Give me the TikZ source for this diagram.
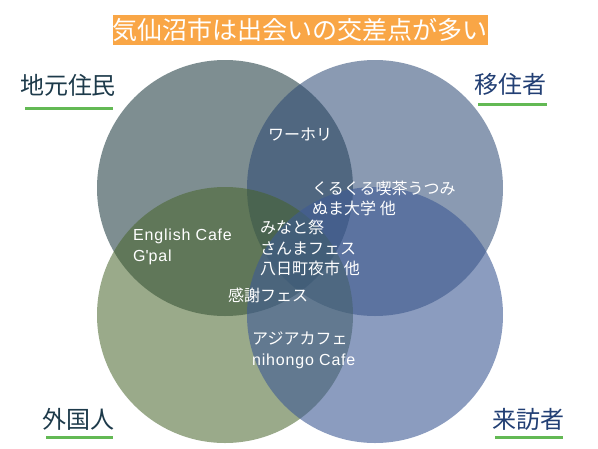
\documentclass[tikz,border=0pt]{standalone}
\usepackage{fontspec}
\setmainfont{Noto Sans CJK JP}
\newfontfamily\latinfont[LetterSpace=5]{Liberation Sans}
\usetikzlibrary{positioning}
\definecolor{titleorange}{HTML}{F9A646}
\definecolor{jimotocol}{HTML}{143237}
\definecolor{ijucol}{HTML}{2A4773}
\definecolor{gaikokucol}{HTML}{47642A}
\definecolor{raihocol}{HTML}{3E5A94}
\definecolor{darklabel}{HTML}{1D3A4A}
\definecolor{bluelabel}{HTML}{223F74}
\definecolor{ulgreen}{HTML}{63B954}
\tikzset{
    %Define style for the four circles
    group/.style={
           circle,
           draw=none,
           fill opacity=0.55,
           minimum size=256pt,
           inner sep=0pt},
    %Define style for the group names
    grouplabel/.style={
           inner sep=0pt,
           font=\fontsize{24}{28}\selectfont},
    % Define underline style
    uline/.style={
           ulgreen,
           line width=3pt},
    % Define style for texts inside the circles
    event/.style={
           text=white,
           inner sep=0pt,
           align=left,
           anchor=west,
           font=\fontsize{16}{20.5}\selectfont}
}

\begin{document}
\begin{tikzpicture}[x=1pt, y=-1pt]
        \useasboundingbox (0,0) rectangle (598,448);
        %circles

        % local residents circle
        \node[group, fill=jimotocol] (jimoto) at (225,188) {};

        % migrants circle
        \node[group, fill=ijucol] (iju) at (375,188) {};

        % foreigners circle
        \node[group, fill=gaikokucol] (gaikoku) at (225,315) {};

        % visitors circle
        \node[group, fill=raihocol, fill opacity=0.6] (raiho) at (375,315) {};

        % title node
        \node[fill=titleorange, text=white, inner sep=0pt,
        minimum width=374pt, minimum height=30pt,
        font=\fontsize{25}{30}\selectfont]
        (title) at (300,30)
        {気仙沼市は出会いの交差点が多い}
        ;

        % group names
        \node[grouplabel, text=darklabel] (jimotolbl) at (68,85) {地元住民};
        \node[grouplabel, text=bluelabel] (ijulbl) at (510,84) {移住者};
        \node[grouplabel, text=darklabel] (gaikokulbl) at (78,419) {外国人};
        \node[grouplabel, text=bluelabel] (raiholbl) at (528,419) {来訪者};

        % underlines
        \draw[uline] ([shift={(-43,23)}]jimotolbl.center) -- ([shift={(45,23)}]jimotolbl.center);
        \draw[uline] ([shift={(-32,20)}]ijulbl.center) -- ([shift={(37,20)}]ijulbl.center);
        \draw[uline] ([shift={(-32,18)}]gaikokulbl.center) -- ([shift={(35,18)}]gaikokulbl.center);
        \draw[uline] ([shift={(-33,18)}]raiholbl.center) -- ([shift={(35,18)}]raiholbl.center);

        % texts in the overlaps
        \node[event, anchor=center] (wh) at (300,135) {ワーホリ};
        \node[event] (kissa) at (312,198.5) {くるくる喫茶うつみ\\ぬま大学 他};
        \node[event] (matsuri) at (260,248) {みなと祭\\さんまフェス\\八日町夜市 他};
        \node[event] (english) at (133,247) {{\latinfont English Cafe}\\{\latinfont G\textquotesingle pal}};
        \node[event] (kansha) at (228,295) {感謝フェス};
        \node[event] (asia) at (252,350.5) {アジアカフェ\\{\latinfont nihongo Cafe}};

    \end{tikzpicture}
\end{document}
